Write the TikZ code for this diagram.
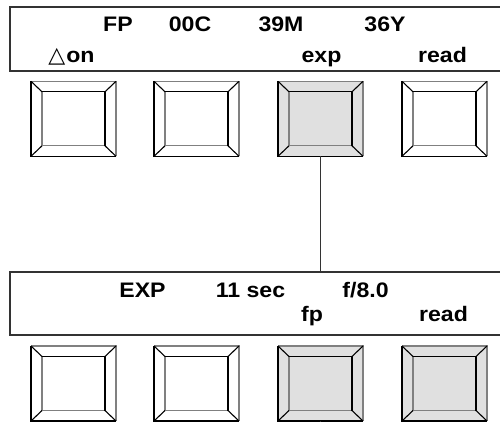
\documentclass[tikz,border=0pt]{standalone}
\usepackage{fontspec}
\newfontfamily\lcdfont[FakeStretch=1.1]{Liberation Sans}
\newfontfamily\symfont{DejaVu Sans}
\usetikzlibrary{calc}

\definecolor{keygray}{HTML}{E0E0E0}
\definecolor{rimgray}{HTML}{808080}

\tikzset{
  lcd/.style={draw=black!80, line width=1.2pt, minimum width=510pt, minimum height=64pt, inner sep=0pt, outer sep=0pt},
  keybox/.style={minimum width=85pt, minimum height=75pt, inner sep=0pt, outer sep=0pt},
  lcdtext/.style={font=\lcdfont\bfseries\fontsize{21}{24}\selectfont, anchor=base, inner sep=0pt},
  darkrim/.style={line width=1.1pt, black},
  lightrim/.style={line width=1.4pt, rimgray},
}

% bevelled key drawn round a named node
\newcommand\keybevel[2]{%
  \fill[#2] (#1.north west) rectangle (#1.south east);
  \coordinate (#1-inw) at ($(#1.north west)+(11,10.5)$);
  \coordinate (#1-ine) at ($(#1.north east)+(-11,10.5)$);
  \coordinate (#1-isw) at ($(#1.south west)+(11,-10.5)$);
  \coordinate (#1-ise) at ($(#1.south east)+(-11,-10.5)$);
  \draw[lightrim] (#1.north west) -- (#1.north east) -- (#1.south east);
  \draw[lightrim] (#1-inw) -- (#1-isw) -- (#1-ise);
  \draw[darkrim] (#1.north west) -- (#1.south west) -- (#1.south east);
  \draw[darkrim] (#1-inw) -- (#1-ine) -- (#1-ise);
  \draw[darkrim] (#1.north west) -- (#1-inw) (#1.north east) -- (#1-ine)
    (#1.south west) -- (#1-isw) (#1.south east) -- (#1-ise);
}

\begin{document}
\begin{tikzpicture}[x=1pt, y=-1pt]
  \useasboundingbox (0,0) rectangle (500,422);

  % display panels
  \node[lcd] (topdisp) at (265,39) {};
  \node[lcd, minimum height=63pt] (botdisp) at (265,303.5) {};

  % keys, top row and bottom row
  \foreach \i/\x in {1/73.5,2/196.5,3/320.5,4/444.5} {
    \node[keybox] (t\i) at (\x,118.8) {};
    \node[keybox] (b\i) at (\x,383.5) {};
  }
  \foreach \n/\c in {t1/white,t2/white,t3/keygray,t4/white,b1/white,b2/white,b3/keygray,b4/keygray}
    \keybevel{\n}{\c};

  % link from pressed key to next display
  \draw[black!80, line width=0.8pt] (t3.south) -- (t3.south |- botdisp.north);
  \coordinate (tail) at (320.5,430);
  \draw[black!80, line width=0.8pt] (b3.south) -- (tail);

  % top display text
  \node[lcdtext] (fp)   at (118,31.7) {FP};
  \node[lcdtext] (cyan) at (190,31.7) {00C};
  \node[lcdtext] (mag)  at (281,31.7) {39M};
  \node[lcdtext] (yel)  at (385,31.7) {36Y};
  \node[lcdtext] (on)   at (71.5,62.5) {{\symfont\mdseries\fontsize{22}{22}\selectfont △}\hspace{1pt}on};
  \node[lcdtext] (exp)  at (321.5,62.5) {exp};
  \node[lcdtext] (rdt)  at (442.5,62.5) {read};

  % bottom display text
  \node[lcdtext] (expt) at (142.5,297.7) {EXP};
  \node[lcdtext] (secs) at (250.5,297.7) {11 sec};
  \node[lcdtext] (fnum) at (365.5,297.7) {f/8.0};
  \node[lcdtext] (fpk)  at (312,321.5) {fp};
  \node[lcdtext] (rdb)  at (443.5,321.5) {read};
\end{tikzpicture}
\end{document}
